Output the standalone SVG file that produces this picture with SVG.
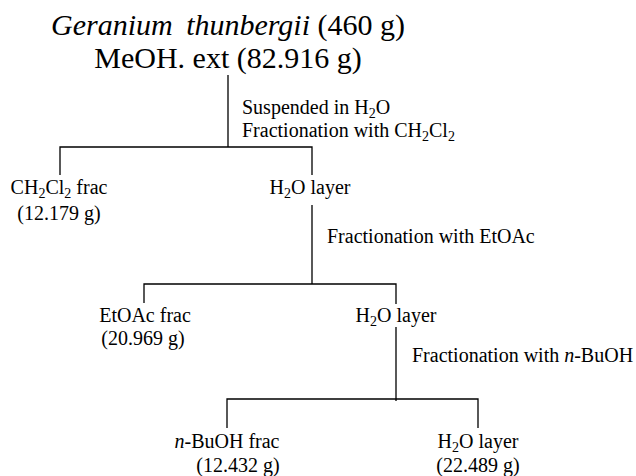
<svg xmlns="http://www.w3.org/2000/svg" width="636" height="476" viewBox="0 0 636 476">
<style>
text{font-family:'Liberation Serif','Times New Roman',serif;fill:#000}
.t{font-size:30px}
.l{font-size:20px}
.s{font-size:14px}
.i{font-style:italic}
.c{stroke:#000;stroke-width:1.3;fill:none}
</style>
<rect width="636" height="476" fill="#fff"/>
<g id="connectors">
<path class="c" d="M228 75V147M60 175V147H312V175"/>
<path class="c" d="M312 205V284M144 303V284H396V304"/>
<path class="c" d="M396 327V401M227 428V399H478V428"/>
</g>
<g id="start">
<text class="t" x="228" y="35" text-anchor="middle"><tspan class="i">Geranium</tspan><tspan class="i" dx="6"> thunbergii</tspan> (460 g)</text>
<text class="t" x="228" y="68" text-anchor="middle">MeOH. ext (82.916 g)</text>
</g>
<g id="step1">
<text class="l" x="242" y="114">Suspended in H<tspan class="s" dy="3.5">2</tspan><tspan dy="-3.5">O</tspan></text>
<text class="l" x="242" y="137">Fractionation with CH<tspan class="s" dy="3.5">2</tspan><tspan dy="-3.5">Cl</tspan><tspan class="s" dy="3.5">2</tspan></text>
</g>
<g id="ch2cl2-frac">
<text class="l" x="59" y="194" text-anchor="middle">CH<tspan class="s" dy="3.5">2</tspan><tspan dy="-3.5">Cl</tspan><tspan class="s" dy="3.5">2</tspan><tspan dy="-3.5"> frac</tspan></text>
<text class="l" x="59" y="220" text-anchor="middle">(12.179 g)</text>
</g>
<g id="h2o-layer-1">
<text class="l" x="310" y="194" text-anchor="middle">H<tspan class="s" dy="3.5">2</tspan><tspan dy="-3.5">O layer</tspan></text>
</g>
<g id="step2">
<text class="l" x="327" y="243">Fractionation with EtOAc</text>
</g>
<g id="etoac-frac">
<text class="l" x="145" y="322" text-anchor="middle">EtOAc frac</text>
<text class="l" x="143" y="345" text-anchor="middle">(20.969 g)</text>
</g>
<g id="h2o-layer-2">
<text class="l" x="396" y="322" text-anchor="middle">H<tspan class="s" dy="3.5">2</tspan><tspan dy="-3.5">O layer</tspan></text>
</g>
<g id="step3">
<text class="l" x="412" y="362">Fractionation with <tspan class="i">n</tspan>-BuOH</text>
</g>
<g id="buoh-frac">
<text class="l" x="227" y="448" text-anchor="middle"><tspan class="i">n</tspan>-BuOH frac</text>
<text class="l" x="238" y="472" text-anchor="middle">(12.432 g)</text>
</g>
<g id="h2o-layer-3">
<text class="l" x="478" y="448" text-anchor="middle">H<tspan class="s" dy="3.5">2</tspan><tspan dy="-3.5">O layer</tspan></text>
<text class="l" x="478" y="472" text-anchor="middle">(22.489 g)</text>
</g>
</svg>
